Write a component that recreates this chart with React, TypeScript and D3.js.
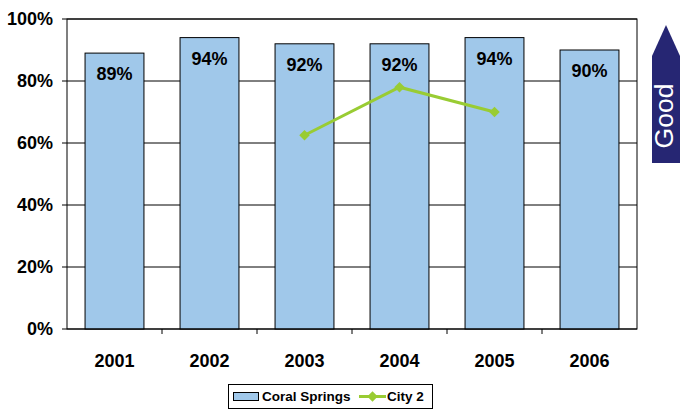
import React from "react";
import * as d3 from "d3";

const years = ["2001", "2002", "2003", "2004", "2005", "2006"];
const coralSprings = [89, 94, 92, 92, 94, 90];
const city2: (number | null)[] = [null, null, 62.5, 78, 70, null];
const yTicks = [0, 20, 40, 60, 80, 100];

const W = 680;
const H = 413;
const margin = { left: 67, right: 43, top: 19, bottom: 84 };
const font = "'Liberation Sans', Arial, sans-serif";
const barFill = "#A0C8EA";
const lineColor = "#99CC33";
const arrowColor = "#262673";

export default function App() {
  const plotW = W - margin.left - margin.right;
  const plotH = H - margin.top - margin.bottom;

  const x = d3.scaleBand().domain(years).range([0, plotW]).paddingInner(0.38).paddingOuter(0.19);
  const xEdge = d3.scaleBand().domain(years).range([0, plotW]);
  const y = d3.scaleLinear().domain([0, 100]).range([plotH, 0]);

  const linePts = years
    .map((yr, i) => ({ yr, v: city2[i] }))
    .filter((d) => d.v !== null) as { yr: string; v: number }[];
  const line = d3
    .line<{ yr: string; v: number }>()
    .x((d) => (xEdge(d.yr) as number) + xEdge.bandwidth() / 2)
    .y((d) => y(d.v));

  // square turned 45deg, like Excel's diamond marker
  const diamond = d3.symbol().type(d3.symbolSquare).size(55)() as string;

  return (
    <svg width={W} height={H} style={{ position: "absolute", left: 0, top: 0 }} fontFamily={font}>
      <g transform={`translate(${margin.left},${margin.top})`}>
        {yTicks.map((t) => (
          <g key={t}>
            <line x1={-5} x2={plotW} y1={y(t)} y2={y(t)} stroke="#000" strokeWidth={1} />
            <text x={-14} y={y(t)} dy="0.36em" textAnchor="end" fontSize={18} fontWeight="bold">
              {t}%
            </text>
          </g>
        ))}
        {years.map((yr, i) => (
          <g key={yr}>
            <rect
              x={x(yr)}
              y={y(coralSprings[i])}
              width={x.bandwidth()}
              height={plotH - y(coralSprings[i])}
              fill={barFill}
              stroke="#000"
              strokeWidth={1}
            />
            <text
              x={(x(yr) as number) + x.bandwidth() / 2}
              y={y(coralSprings[i]) + 27}
              textAnchor="middle"
              fontSize={18}
              fontWeight="bold"
            >
              {coralSprings[i]}%
            </text>
            <text
              x={(xEdge(yr) as number) + xEdge.bandwidth() / 2}
              y={plotH + 38}
              textAnchor="middle"
              fontSize={18}
              fontWeight="bold"
            >
              {yr}
            </text>
            {i > 0 && (
              <line
                x1={xEdge(yr)}
                x2={xEdge(yr)}
                y1={plotH}
                y2={plotH + 5}
                stroke="#000"
              />
            )}
          </g>
        ))}
        <rect x={0} y={0} width={plotW} height={plotH} fill="none" stroke="#000" strokeWidth={1} />
        <path d={line(linePts) as string} fill="none" stroke={lineColor} strokeWidth={3} />
        {linePts.map((d) => (
          <path
            key={d.yr}
            d={diamond}
            transform={`translate(${(xEdge(d.yr) as number) + xEdge.bandwidth() / 2},${y(d.v)}) rotate(45)`}
            fill={lineColor}
          />
        ))}
      </g>

      {/* "Good" arrow */}
      <path d="M652,56 L666,25 L680,56 L680,163 L652,163 Z" fill={arrowColor} />
      <text
        transform="translate(673,116) rotate(-90)"
        textAnchor="middle"
        fill="#fff"
        fontSize={26.5}
      >
        Good
      </text>

      {/* legend */}
      <g>
        <rect x={228.5} y={384.5} width={204} height={24} fill="#fff" stroke="#000" strokeWidth={1} />
        <rect x={233.5} y={392.5} width={25} height={8} fill={barFill} stroke="#000" strokeWidth={1} />
        <text x={262} y={401} fontSize={13.5} fontWeight="bold">
          Coral Springs
        </text>
        <line x1={359} x2={386} y1={396.5} y2={396.5} stroke={lineColor} strokeWidth={3} />
        <path d={diamond} transform="translate(372.5,396.5) rotate(45)" fill={lineColor} />
        <text x={387} y={401} fontSize={13.5} fontWeight="bold">
          City 2
        </text>
      </g>
    </svg>
  );
}
